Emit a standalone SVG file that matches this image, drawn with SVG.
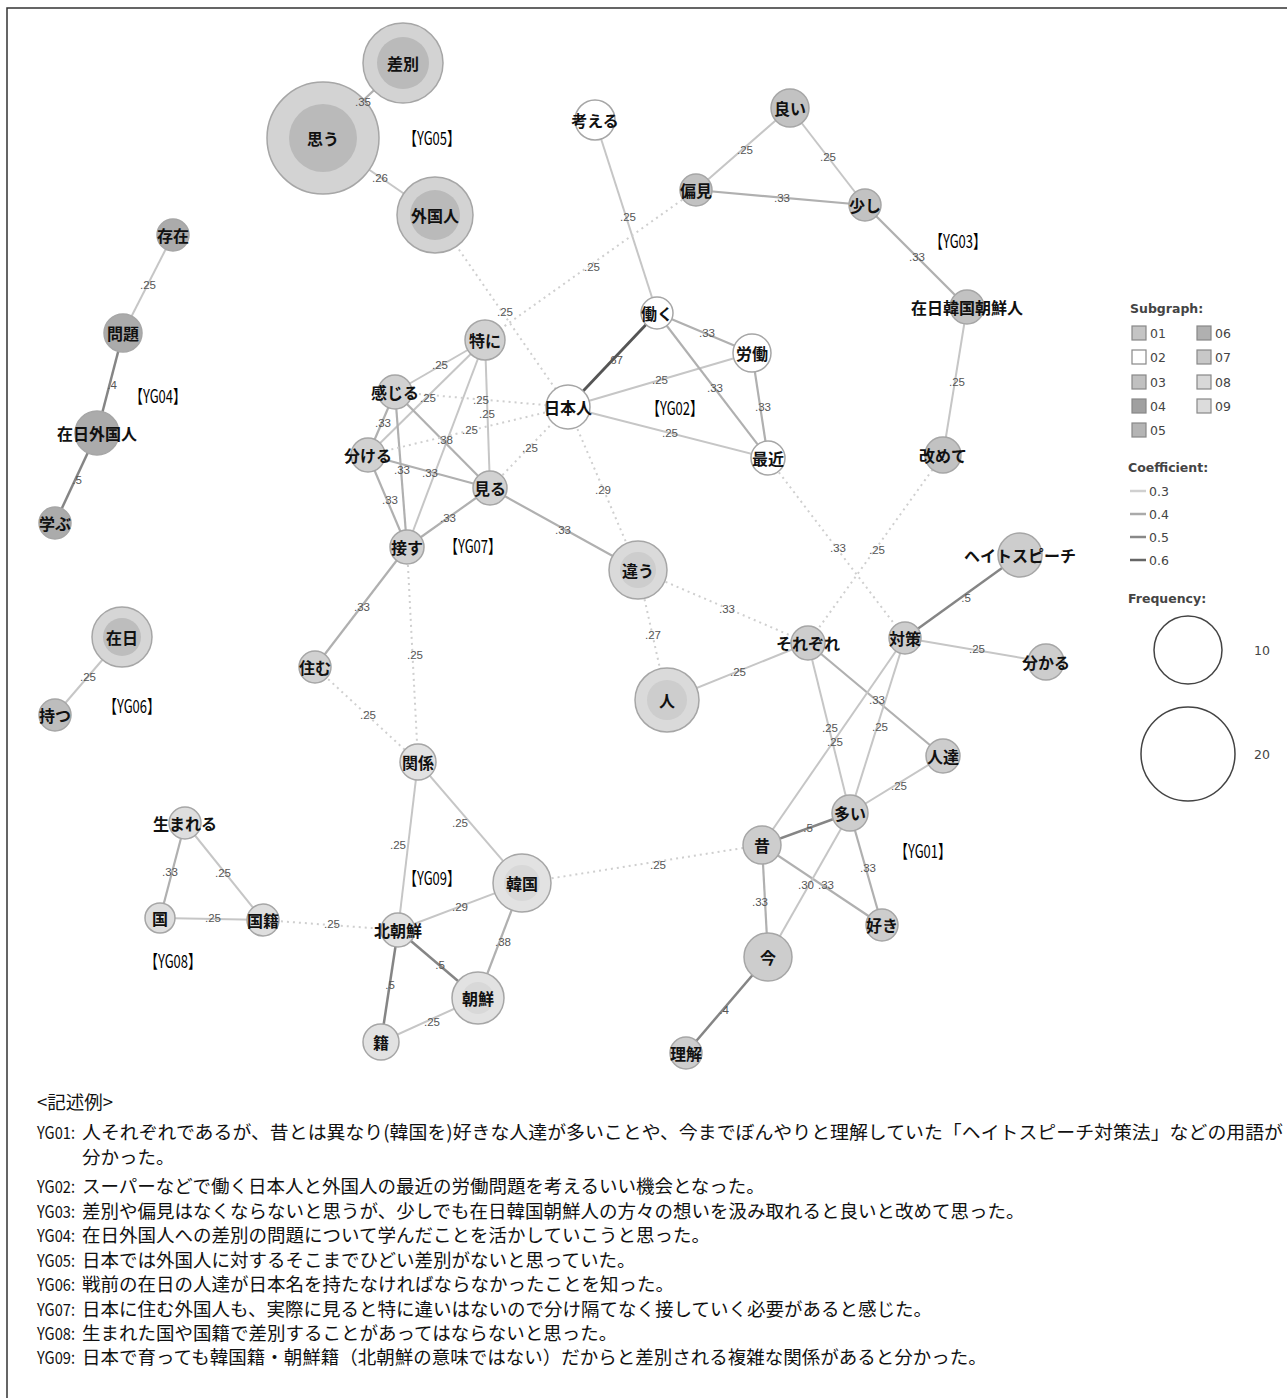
<svg xmlns="http://www.w3.org/2000/svg" width="1287" height="1398" viewBox="0 0 1287 1398">
<style>
.bg{fill:#fff}
.frame{fill:none;stroke:#333;stroke-width:1.5}
.e1{stroke:#c6c6c6;stroke-width:2;fill:none}
.e2{stroke:#b0b0b0;stroke-width:2.2;fill:none}
.e3{stroke:#858585;stroke-width:2.5;fill:none}
.e4{stroke:#555;stroke-width:2.8;fill:none}
.ed{stroke:#cfcfcf;stroke-width:2;fill:none;stroke-dasharray:2 4}
.el{font-family:"Liberation Sans",Arial,sans-serif;font-size:11.5px;fill:#555;text-anchor:middle;dominant-baseline:central}
.nl{font-family:"Noto Sans CJK JP","Noto Sans",sans-serif;font-size:16px;font-weight:bold;fill:#111;text-anchor:middle;dominant-baseline:central}
.ns{stroke:#a6a6a6;stroke-width:1.5}
.g01{fill:#cdcdcd}.g01o{fill:#dadada}
.g02{fill:#fff}
.g03{fill:#c2c2c2}
.g04{fill:#ababab}
.g05{fill:#bababa}.g05o{fill:#d3d3d3}
.g06{fill:#bdbdbd}.g06o{fill:#d6d6d6}
.g07{fill:#d1d1d1}
.g08{fill:#dedede}
.g09{fill:#e2e2e2}.g09i{fill:#d8d8d8}
.yg{font-family:"Noto Sans CJK JP","Noto Sans",sans-serif;font-size:18px;fill:#000;text-anchor:middle;dominant-baseline:central}
.lt{font-family:"DejaVu Sans","Open Sans",sans-serif;font-size:12.5px;fill:#444}
.lh{font-family:"DejaVu Sans","Open Sans",sans-serif;font-size:12.5px;font-weight:bold;fill:#444}
.sw{stroke:#888;stroke-width:1.2}
.tx{font-family:"Noto Sans CJK JP","Noto Sans",sans-serif;font-size:18.5px;fill:#111}
.px{font-family:"Noto Sans CJK JP","Noto Sans",sans-serif;font-size:17px;fill:#111}
</style>
<rect class="bg" x="0" y="0" width="1287" height="1398"/>
<rect class="frame" x="7" y="8" width="1300" height="1420"/>

<g id="connectors">
<line class="e2" x1="403" y1="63" x2="323" y2="138"/>
<line class="e1" x1="323" y1="138" x2="435" y2="215"/>
<line class="e1" x1="173" y1="235" x2="123" y2="333"/>
<line class="e3" x1="123" y1="333" x2="97" y2="433"/>
<line class="e3" x1="97" y1="433" x2="55" y2="523"/>
<line class="e1" x1="122" y1="637" x2="55" y2="715"/>
<line class="e1" x1="595" y1="120" x2="657" y2="313"/>
<line class="e2" x1="657" y1="313" x2="752" y2="353"/>
<line class="e4" x1="657" y1="313" x2="568" y2="407"/>
<line class="e1" x1="568" y1="407" x2="752" y2="353"/>
<line class="e2" x1="657" y1="313" x2="768" y2="458"/>
<line class="e2" x1="752" y1="353" x2="768" y2="458"/>
<line class="e1" x1="568" y1="407" x2="768" y2="458"/>
<line class="e1" x1="790" y1="108" x2="696" y2="190"/>
<line class="e1" x1="790" y1="108" x2="865" y2="205"/>
<line class="e2" x1="696" y1="190" x2="865" y2="205"/>
<line class="e2" x1="865" y1="205" x2="967" y2="307"/>
<line class="e1" x1="967" y1="307" x2="943" y2="455"/>
<line class="e1" x1="485" y1="340" x2="395" y2="392"/>
<line class="e1" x1="485" y1="340" x2="368" y2="455"/>
<line class="e1" x1="485" y1="340" x2="490" y2="488"/>
<line class="e1" x1="485" y1="340" x2="407" y2="547"/>
<line class="e2" x1="395" y1="392" x2="368" y2="455"/>
<line class="e2" x1="395" y1="392" x2="490" y2="488"/>
<line class="e2" x1="395" y1="392" x2="407" y2="547"/>
<line class="e2" x1="368" y1="455" x2="490" y2="488"/>
<line class="e2" x1="368" y1="455" x2="407" y2="547"/>
<line class="e2" x1="490" y1="488" x2="407" y2="547"/>
<line class="e2" x1="490" y1="488" x2="638" y2="570"/>
<line class="e2" x1="407" y1="547" x2="315" y2="667"/>
<line class="e1" x1="667" y1="700" x2="808" y2="643"/>
<line class="e3" x1="1020" y1="555" x2="905" y2="638"/>
<line class="e1" x1="905" y1="638" x2="1046" y2="662"/>
<line class="e2" x1="808" y1="643" x2="943" y2="756"/>
<line class="e1" x1="808" y1="643" x2="850" y2="813"/>
<line class="e1" x1="905" y1="638" x2="762" y2="845"/>
<line class="e1" x1="905" y1="638" x2="850" y2="813"/>
<line class="e1" x1="943" y1="756" x2="850" y2="813"/>
<line class="e3" x1="762" y1="845" x2="850" y2="813"/>
<line class="e2" x1="762" y1="845" x2="882" y2="925"/>
<line class="e1" x1="850" y1="813" x2="768" y2="957"/>
<line class="e2" x1="850" y1="813" x2="882" y2="925"/>
<line class="e2" x1="762" y1="845" x2="768" y2="957"/>
<line class="e3" x1="768" y1="957" x2="686" y2="1053"/>
<line class="e2" x1="185" y1="823" x2="160" y2="918"/>
<line class="e1" x1="185" y1="823" x2="263" y2="920"/>
<line class="e1" x1="160" y1="918" x2="263" y2="920"/>
<line class="e1" x1="418" y1="762" x2="398" y2="930"/>
<line class="e1" x1="418" y1="762" x2="522" y2="883"/>
<line class="e1" x1="398" y1="930" x2="522" y2="883"/>
<line class="e2" x1="522" y1="883" x2="478" y2="998"/>
<line class="e3" x1="398" y1="930" x2="478" y2="998"/>
<line class="e3" x1="398" y1="930" x2="381" y2="1042"/>
<line class="e1" x1="381" y1="1042" x2="478" y2="998"/>
<line class="ed" x1="435" y1="215" x2="568" y2="407"/>
<line class="ed" x1="485" y1="340" x2="696" y2="190"/>
<line class="ed" x1="395" y1="392" x2="568" y2="407"/>
<line class="ed" x1="368" y1="455" x2="568" y2="407"/>
<line class="ed" x1="490" y1="488" x2="568" y2="407"/>
<line class="ed" x1="568" y1="407" x2="638" y2="570"/>
<line class="ed" x1="638" y1="570" x2="808" y2="643"/>
<line class="ed" x1="638" y1="570" x2="667" y2="700"/>
<line class="ed" x1="768" y1="458" x2="905" y2="638"/>
<line class="ed" x1="943" y1="455" x2="808" y2="643"/>
<line class="ed" x1="407" y1="547" x2="418" y2="762"/>
<line class="ed" x1="315" y1="667" x2="418" y2="762"/>
<line class="ed" x1="263" y1="920" x2="398" y2="930"/>
<line class="ed" x1="522" y1="883" x2="762" y2="845"/>
</g>

<g id="n-sabetsu"><circle class="ns g05o" cx="403" cy="63" r="40"/><circle class="g05" cx="403" cy="63" r="26"/><text class="nl" x="403" y="63">差別</text></g>
<g id="n-omou"><circle class="ns g05o" cx="323" cy="138" r="56"/><circle class="g05" cx="323" cy="138" r="34"/><text class="nl" x="323" y="138">思う</text></g>
<g id="n-gaikokujin"><circle class="ns g05o" cx="435" cy="215" r="38"/><circle class="g05" cx="435" cy="215" r="25"/><text class="nl" x="435" y="215">外国人</text></g>
<g id="n-sonzai"><circle class="ns g04" cx="173" cy="235" r="16"/><text class="nl" x="173" y="235">存在</text></g>
<g id="n-mondai"><circle class="ns g04" cx="123" cy="333" r="19"/><text class="nl" x="123" y="333">問題</text></g>
<g id="n-zainichigaikokujin"><circle class="ns g04" cx="97" cy="433" r="22"/><text class="nl" x="97" y="433">在日外国人</text></g>
<g id="n-manabu"><circle class="ns g04" cx="55" cy="523" r="16"/><text class="nl" x="55" y="523">学ぶ</text></g>
<g id="n-zainichi"><circle class="ns g06o" cx="122" cy="637" r="30"/><circle class="g06" cx="122" cy="637" r="19"/><text class="nl" x="122" y="637">在日</text></g>
<g id="n-motsu"><circle class="ns g06" cx="55" cy="715" r="16"/><text class="nl" x="55" y="715">持つ</text></g>
<g id="n-kangaeru"><circle class="ns g02" cx="595" cy="120" r="20"/><text class="nl" x="595" y="120">考える</text></g>
<g id="n-hataraku"><circle class="ns g02" cx="657" cy="313" r="16"/><text class="nl" x="657" y="313">働く</text></g>
<g id="n-roudou"><circle class="ns g02" cx="752" cy="353" r="19"/><text class="nl" x="752" y="353">労働</text></g>
<g id="n-saikin"><circle class="ns g02" cx="768" cy="458" r="17"/><text class="nl" x="768" y="458">最近</text></g>
<g id="n-nihonjin"><circle class="ns g02" cx="568" cy="407" r="22"/><text class="nl" x="568" y="407">日本人</text></g>
<g id="n-yoi"><circle class="ns g03" cx="790" cy="108" r="19"/><text class="nl" x="790" y="108">良い</text></g>
<g id="n-henken"><circle class="ns g03" cx="696" cy="190" r="16"/><text class="nl" x="696" y="190">偏見</text></g>
<g id="n-sukoshi"><circle class="ns g03" cx="865" cy="205" r="16"/><text class="nl" x="865" y="205">少し</text></g>
<g id="n-zainichikankoku"><circle class="ns g03" cx="967" cy="307" r="17"/><text class="nl" x="967" y="307">在日韓国朝鮮人</text></g>
<g id="n-aratamete"><circle class="ns g03" cx="943" cy="455" r="18"/><text class="nl" x="943" y="455">改めて</text></g>
<g id="n-tokuni"><circle class="ns g07" cx="485" cy="340" r="20"/><text class="nl" x="485" y="340">特に</text></g>
<g id="n-kanjiru"><circle class="ns g07" cx="395" cy="392" r="17"/><text class="nl" x="395" y="392">感じる</text></g>
<g id="n-wakeru"><circle class="ns g07" cx="368" cy="455" r="17"/><text class="nl" x="368" y="455">分ける</text></g>
<g id="n-miru"><circle class="ns g07" cx="490" cy="488" r="17"/><text class="nl" x="490" y="488">見る</text></g>
<g id="n-sessu"><circle class="ns g07" cx="407" cy="547" r="17"/><text class="nl" x="407" y="547">接す</text></g>
<g id="n-sumu"><circle class="ns g07" cx="315" cy="667" r="16"/><text class="nl" x="315" y="667">住む</text></g>
<g id="n-chigau"><circle class="ns g01o" cx="638" cy="570" r="29"/><circle class="g01" cx="638" cy="570" r="18"/><text class="nl" x="638" y="570">違う</text></g>
<g id="n-hito"><circle class="ns g01o" cx="667" cy="700" r="32"/><circle class="g01" cx="667" cy="700" r="20"/><text class="nl" x="667" y="700">人</text></g>
<g id="n-sorezore"><circle class="ns g01" cx="808" cy="643" r="17"/><text class="nl" x="808" y="643">それぞれ</text></g>
<g id="n-taisaku"><circle class="ns g01" cx="905" cy="638" r="16"/><text class="nl" x="905" y="638">対策</text></g>
<g id="n-hatespeech"><circle class="ns g01" cx="1020" cy="555" r="22"/><text class="nl" x="1020" y="555">ヘイトスピーチ</text></g>
<g id="n-wakaru"><circle class="ns g01" cx="1046" cy="662" r="18"/><text class="nl" x="1046" y="662">分かる</text></g>
<g id="n-hitotachi"><circle class="ns g01" cx="943" cy="756" r="17"/><text class="nl" x="943" y="756">人達</text></g>
<g id="n-ooi"><circle class="ns g01" cx="850" cy="813" r="18"/><text class="nl" x="850" y="813">多い</text></g>
<g id="n-mukashi"><circle class="ns g01" cx="762" cy="845" r="19"/><text class="nl" x="762" y="845">昔</text></g>
<g id="n-suki"><circle class="ns g01" cx="882" cy="925" r="16"/><text class="nl" x="882" y="925">好き</text></g>
<g id="n-ima"><circle class="ns g01" cx="768" cy="957" r="24"/><text class="nl" x="768" y="957">今</text></g>
<g id="n-rikai"><circle class="ns g01" cx="686" cy="1053" r="16"/><text class="nl" x="686" y="1053">理解</text></g>
<g id="n-umareru"><circle class="ns g08" cx="185" cy="823" r="16"/><text class="nl" x="185" y="823">生まれる</text></g>
<g id="n-kuni"><circle class="ns g08" cx="160" cy="918" r="15"/><text class="nl" x="160" y="918">国</text></g>
<g id="n-kokuseki"><circle class="ns g08" cx="263" cy="920" r="16"/><text class="nl" x="263" y="920">国籍</text></g>
<g id="n-kankei"><circle class="ns g09" cx="418" cy="762" r="18"/><text class="nl" x="418" y="762">関係</text></g>
<g id="n-kitachousen"><circle class="ns g09" cx="398" cy="930" r="17"/><text class="nl" x="398" y="930">北朝鮮</text></g>
<g id="n-kankoku"><circle class="ns g09" cx="522" cy="883" r="29"/><circle class="g09i" cx="522" cy="883" r="18"/><text class="nl" x="522" y="883">韓国</text></g>
<g id="n-chousen"><circle class="ns g09" cx="478" cy="998" r="26"/><circle class="g09i" cx="478" cy="998" r="16"/><text class="nl" x="478" y="998">朝鮮</text></g>
<g id="n-seki"><circle class="ns g09" cx="381" cy="1042" r="18"/><text class="nl" x="381" y="1042">籍</text></g>

<g id="edge-labels">
<text class="el" x="363" y="102">.35</text>
<text class="el" x="380" y="178">.26</text>
<text class="el" x="148" y="285">.25</text>
<text class="el" x="112" y="385">.4</text>
<text class="el" x="77" y="480">.5</text>
<text class="el" x="88" y="677">.25</text>
<text class="el" x="628" y="217">.25</text>
<text class="el" x="707" y="333">.33</text>
<text class="el" x="615" y="360">.67</text>
<text class="el" x="660" y="380">.25</text>
<text class="el" x="715" y="388">.33</text>
<text class="el" x="763" y="407">.33</text>
<text class="el" x="670" y="433">.25</text>
<text class="el" x="745" y="150">.25</text>
<text class="el" x="828" y="157">.25</text>
<text class="el" x="782" y="198">.33</text>
<text class="el" x="917" y="257">.33</text>
<text class="el" x="957" y="382">.25</text>
<text class="el" x="440" y="365">.25</text>
<text class="el" x="428" y="398">.25</text>
<text class="el" x="487" y="414">.25</text>
<text class="el" x="383" y="423">.33</text>
<text class="el" x="445" y="440">.38</text>
<text class="el" x="402" y="470">.33</text>
<text class="el" x="430" y="473">.33</text>
<text class="el" x="390" y="500">.33</text>
<text class="el" x="448" y="518">.33</text>
<text class="el" x="563" y="530">.33</text>
<text class="el" x="362" y="607">.33</text>
<text class="el" x="738" y="672">.25</text>
<text class="el" x="966" y="598">.5</text>
<text class="el" x="977" y="649">.25</text>
<text class="el" x="877" y="700">.33</text>
<text class="el" x="830" y="728">.25</text>
<text class="el" x="835" y="742">.25</text>
<text class="el" x="880" y="727">.25</text>
<text class="el" x="899" y="786">.25</text>
<text class="el" x="808" y="828">.5</text>
<text class="el" x="826" y="885">.33</text>
<text class="el" x="806" y="885">.30</text>
<text class="el" x="868" y="868">.33</text>
<text class="el" x="760" y="902">.33</text>
<text class="el" x="724" y="1010">.4</text>
<text class="el" x="170" y="872">.33</text>
<text class="el" x="223" y="873">.25</text>
<text class="el" x="213" y="918">.25</text>
<text class="el" x="398" y="845">.25</text>
<text class="el" x="460" y="823">.25</text>
<text class="el" x="460" y="907">.29</text>
<text class="el" x="503" y="942">.38</text>
<text class="el" x="440" y="965">.5</text>
<text class="el" x="390" y="985">.5</text>
<text class="el" x="432" y="1022">.25</text>
<text class="el" x="505" y="312">.25</text>
<text class="el" x="592" y="267">.25</text>
<text class="el" x="481" y="400">.25</text>
<text class="el" x="470" y="430">.25</text>
<text class="el" x="530" y="448">.25</text>
<text class="el" x="603" y="490">.29</text>
<text class="el" x="727" y="609">.33</text>
<text class="el" x="653" y="635">.27</text>
<text class="el" x="838" y="548">.33</text>
<text class="el" x="877" y="550">.25</text>
<text class="el" x="415" y="655">.25</text>
<text class="el" x="368" y="715">.25</text>
<text class="el" x="332" y="924">.25</text>
<text class="el" x="658" y="865">.25</text>
</g>

<g id="group-labels">
<text class="yg" x="432" y="137" textLength="56" lengthAdjust="spacingAndGlyphs">【YG05】</text>
<text class="yg" x="158" y="395" textLength="56" lengthAdjust="spacingAndGlyphs">【YG04】</text>
<text class="yg" x="132" y="705" textLength="56" lengthAdjust="spacingAndGlyphs">【YG06】</text>
<text class="yg" x="173" y="960" textLength="56" lengthAdjust="spacingAndGlyphs">【YG08】</text>
<text class="yg" x="432" y="877" textLength="56" lengthAdjust="spacingAndGlyphs">【YG09】</text>
<text class="yg" x="473" y="545" textLength="56" lengthAdjust="spacingAndGlyphs">【YG07】</text>
<text class="yg" x="675" y="407" textLength="56" lengthAdjust="spacingAndGlyphs">【YG02】</text>
<text class="yg" x="958" y="240" textLength="56" lengthAdjust="spacingAndGlyphs">【YG03】</text>
<text class="yg" x="923" y="850" textLength="56" lengthAdjust="spacingAndGlyphs">【YG01】</text>
</g>

<g id="legend">
<text class="lh" x="1130" y="313">Subgraph:</text>
<rect class="sw" x="1132" y="326" width="14" height="14" fill="#c4c4c4"/><text class="lt" x="1150" y="338">01</text>
<rect class="sw" x="1132" y="350" width="14" height="14" fill="#ffffff"/><text class="lt" x="1150" y="362">02</text>
<rect class="sw" x="1132" y="375" width="14" height="14" fill="#c0c0c0"/><text class="lt" x="1150" y="387">03</text>
<rect class="sw" x="1132" y="399" width="14" height="14" fill="#a0a0a0"/><text class="lt" x="1150" y="411">04</text>
<rect class="sw" x="1132" y="423" width="14" height="14" fill="#b4b4b4"/><text class="lt" x="1150" y="435">05</text>
<rect class="sw" x="1197" y="326" width="14" height="14" fill="#b0b0b0"/><text class="lt" x="1215" y="338">06</text>
<rect class="sw" x="1197" y="350" width="14" height="14" fill="#c8c8c8"/><text class="lt" x="1215" y="362">07</text>
<rect class="sw" x="1197" y="375" width="14" height="14" fill="#d8d8d8"/><text class="lt" x="1215" y="387">08</text>
<rect class="sw" x="1197" y="399" width="14" height="14" fill="#dcdcdc"/><text class="lt" x="1215" y="411">09</text>
<text class="lh" x="1128" y="472">Coefficient:</text>
<line x1="1130" y1="491" x2="1146" y2="491" stroke="#d0d0d0" stroke-width="2.5"/><text class="lt" x="1149" y="496">0.3</text>
<line x1="1130" y1="514" x2="1146" y2="514" stroke="#aaaaaa" stroke-width="2.5"/><text class="lt" x="1149" y="519">0.4</text>
<line x1="1130" y1="537" x2="1146" y2="537" stroke="#888888" stroke-width="2.5"/><text class="lt" x="1149" y="542">0.5</text>
<line x1="1130" y1="560" x2="1146" y2="560" stroke="#666666" stroke-width="2.5"/><text class="lt" x="1149" y="565">0.6</text>
<text class="lh" x="1128" y="603">Frequency:</text>
<circle cx="1188" cy="650" r="34" fill="none" stroke="#444" stroke-width="1.5"/>
<text class="lt" x="1254" y="655">10</text>
<circle cx="1188" cy="754" r="47" fill="none" stroke="#444" stroke-width="1.5"/>
<text class="lt" x="1254" y="759">20</text>
</g>

<g id="examples">
<text class="tx" x="37" y="1109">&lt;記述例&gt;</text>
<text class="px" x="37" y="1139" textLength="38" lengthAdjust="spacingAndGlyphs">YG01:</text>
<text class="tx" x="82" y="1139" textLength="1201" lengthAdjust="spacingAndGlyphs">人それぞれであるが、昔とは異なり(韓国を)好きな人達が多いことや、今までぼんやりと理解していた「ヘイトスピーチ対策法」などの用語が</text>
<text class="tx" x="82" y="1164">分かった。</text>
<text class="px" x="37" y="1193" textLength="38" lengthAdjust="spacingAndGlyphs">YG02:</text>
<text class="tx" x="82" y="1193">スーパーなどで働く日本人と外国人の最近の労働問題を考えるいい機会となった。</text>
<text class="px" x="37" y="1218" textLength="38" lengthAdjust="spacingAndGlyphs">YG03:</text>
<text class="tx" x="82" y="1218">差別や偏見はなくならないと思うが、少しでも在日韓国朝鮮人の方々の想いを汲み取れると良いと改めて思った。</text>
<text class="px" x="37" y="1242" textLength="38" lengthAdjust="spacingAndGlyphs">YG04:</text>
<text class="tx" x="82" y="1242">在日外国人への差別の問題について学んだことを活かしていこうと思った。</text>
<text class="px" x="37" y="1267" textLength="38" lengthAdjust="spacingAndGlyphs">YG05:</text>
<text class="tx" x="82" y="1267">日本では外国人に対するそこまでひどい差別がないと思っていた。</text>
<text class="px" x="37" y="1291" textLength="38" lengthAdjust="spacingAndGlyphs">YG06:</text>
<text class="tx" x="82" y="1291">戦前の在日の人達が日本名を持たなければならなかったことを知った。</text>
<text class="px" x="37" y="1316" textLength="38" lengthAdjust="spacingAndGlyphs">YG07:</text>
<text class="tx" x="82" y="1316">日本に住む外国人も、実際に見ると特に違いはないので分け隔てなく接していく必要があると感じた。</text>
<text class="px" x="37" y="1340" textLength="38" lengthAdjust="spacingAndGlyphs">YG08:</text>
<text class="tx" x="82" y="1340">生まれた国や国籍で差別することがあってはならないと思った。</text>
<text class="px" x="37" y="1364" textLength="38" lengthAdjust="spacingAndGlyphs">YG09:</text>
<text class="tx" x="82" y="1364">日本で育っても韓国籍・朝鮮籍（北朝鮮の意味ではない）だからと差別される複雑な関係があると分かった。</text>
</g>
</svg>
